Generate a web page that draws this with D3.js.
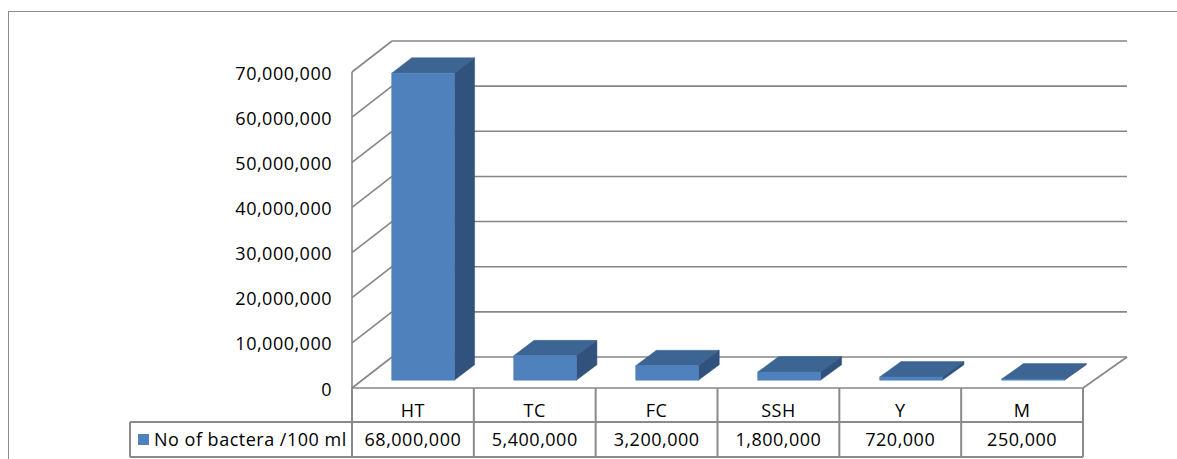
<!DOCTYPE html>
<html>
<head>
<meta charset="utf-8">
<script src="https://cdn.jsdelivr.net/npm/d3@7"></script>
<style>
  html, body { margin: 0; padding: 0; background: #fff; }
  svg { display: block; }
  text { font-family: "Open Sans", "Liberation Sans", sans-serif; font-size: 18px; letter-spacing: 0.5px; fill: #000; }
</style>
</head>
<body>
<svg id="chart" width="1177" height="459"></svg>
<script>
// ---- data ----
const categories = ["HT", "TC", "FC", "SSH", "Y", "M"];
const values = [68000000, 5400000, 3200000, 1800000, 720000, 250000];
const seriesName = "No of bactera /100 ml";
const yTicks = [0, 10000000, 20000000, 30000000, 40000000, 50000000, 60000000, 70000000];

// ---- layout ----
const svg = d3.select("#chart");
const fmt = d3.format(",");
const frontLeft = 352, frontRight = 1083;
const backLeft = 392, backRight = 1127;
const depthDy = -31;
const gridColor = "#868686";
const lineColor = "#8a8a8a";

const x = d3.scaleBand().domain(categories).range([frontLeft, frontRight]).paddingInner(0).paddingOuter(0);
const xBar = d3.scaleBand().domain(categories).range([frontLeft, frontRight]).paddingInner(0.486).paddingOuter(0.243);
const y = d3.scaleLinear().domain([0, 70000000]).range([388, 72]);
const backX = d3.scaleLinear().domain([frontLeft, frontRight]).range([backLeft, backRight]);

// project front-plane point (px, value) into depth d (0 front .. 1 back)
function P(px, v, d) {
  return [px + d * (backX(px) - px), y(v) + d * depthDy];
}
const line = d3.line();

// outer chart border
svg.append("rect").attr("x", 8.5).attr("y", 11.5).attr("width", 1200).attr("height", 500)
  .attr("fill", "none").attr("stroke", "#8c8c8c").attr("stroke-width", 1);

const grid = svg.append("g").attr("fill", "none").attr("stroke", gridColor).attr("stroke-width", 1.6);

// back wall gridlines + left wall diagonals
yTicks.forEach(t => {
  const b0 = P(frontLeft, t, 1), b1 = P(frontRight, t, 1);
  grid.append("path").attr("d", line([b0, b1]));
  grid.append("path").attr("d", line([P(frontLeft, t, 0), b0]));
});
// left wall front edge
grid.append("path").attr("d", line([P(frontLeft, 0, 0), P(frontLeft, 70000000, 0)]));
// floor right diagonal and front edge
grid.append("path").attr("d", line([P(frontRight, 0, 0), P(frontRight, 0, 1)]));
grid.append("path").attr("d", line([P(frontLeft, 0, 0), P(frontRight, 0, 0)]));

// y axis labels
svg.append("g").selectAll("text").data(yTicks).join("text")
  .attr("x", 332).attr("y", d => y(d) + 7.6)
  .attr("text-anchor", "end")
  .text(d => fmt(d));

// bars (3D boxes)
const d0 = 0.25, d1 = 0.75;
const bars = svg.append("g");
categories.forEach((c, i) => {
  const v = values[i];
  const xl = xBar(c), xr = xBar(c) + xBar.bandwidth();
  const g = bars.append("g");
  // top
  g.append("path").attr("fill", "#3c6593").attr("stroke", "#3c6593").attr("stroke-width", 0.5)
    .attr("d", line([P(xl, v, d0), P(xr, v, d0), P(xr, v, d1), P(xl, v, d1)]) + "Z");
  // side
  g.append("path").attr("fill", "#31527c").attr("stroke", "#31527c").attr("stroke-width", 0.5)
    .attr("d", line([P(xr, 0, d0), P(xr, v, d0), P(xr, v, d1), P(xr, 0, d1)]) + "Z");
  // front
  g.append("path").attr("fill", "#4f81bd").attr("stroke", "#4f81bd").attr("stroke-width", 0.5)
    .attr("d", line([P(xl, 0, d0), P(xr, 0, d0), P(xr, v, d0), P(xl, v, d0)]) + "Z");
});

// data table
const tbl = svg.append("g").attr("fill", "none").attr("stroke", lineColor).attr("stroke-width", 2);
const rowTop = 388, rowMid = 422, rowBot = 457, legLeft = 130;
categories.forEach(c => {
  tbl.append("path").attr("d", line([[x(c), rowTop], [x(c), rowBot]]));
});
tbl.append("path").attr("d", line([[frontRight, rowTop], [frontRight, rowBot]]));
tbl.append("path").attr("d", line([[legLeft, rowMid], [frontRight, rowMid]]));
tbl.append("path").attr("d", line([[legLeft, rowBot], [frontRight, rowBot]]));
tbl.append("path").attr("d", line([[legLeft, rowMid], [legLeft, rowBot]]));

// category labels
svg.append("g").selectAll("text").data(categories).join("text")
  .attr("x", d => x(d) + x.bandwidth() / 2).attr("y", 416.5)
  .attr("text-anchor", "middle").text(d => d);
// values
svg.append("g").selectAll("text").data(values).join("text")
  .attr("x", (d, i) => x(categories[i]) + x.bandwidth() / 2).attr("y", 446)
  .attr("text-anchor", "middle").text(d => fmt(d));
// legend key
svg.append("rect").attr("x", 138).attr("y", 434).attr("width", 11).attr("height", 11).attr("fill", "#4f81bd");
svg.append("text").attr("x", 154).attr("y", 446).text(seriesName);
</script>
</body>
</html>
